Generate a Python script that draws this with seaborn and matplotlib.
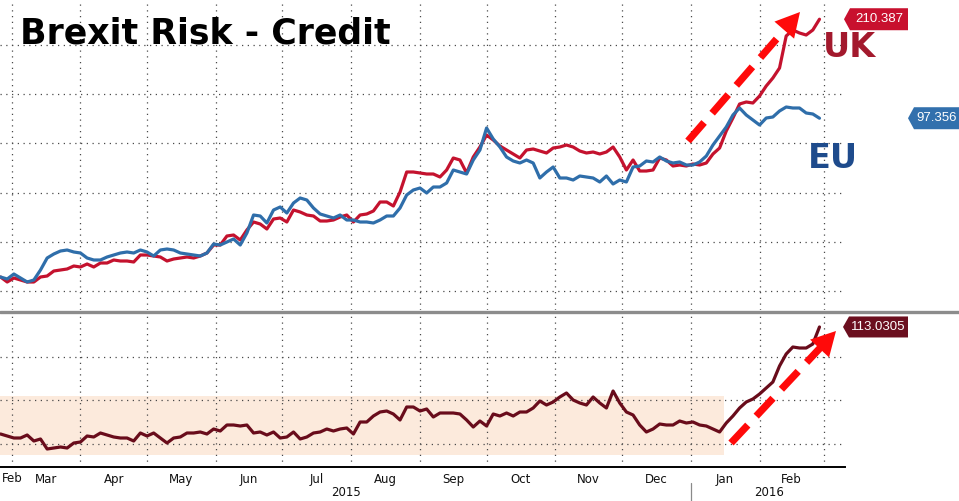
import numpy as np
import pandas as pd
import matplotlib
matplotlib.use("Agg")
import matplotlib.pyplot as plt
import matplotlib.dates as mdates
import matplotlib.transforms as mtransforms
from matplotlib.lines import Line2D
from matplotlib.patches import Polygon, Rectangle
import seaborn as sns

# ---------------- data ----------------
dates = pd.date_range("2015-02-24", periods=124, freq="3D")

uk = [81.5, 79, 81, 80, 79, 79, 81.5, 82, 84.5, 85,
      85.5, 87, 86.5, 88, 86.5, 88.5, 88.5, 90, 89.5, 89.5,
      89, 92.5, 92.5, 92, 91.5, 89.5, 90.5, 91, 91.5, 91,
      92, 93.5, 97.5, 97.5, 102, 102.5, 100, 105, 109, 108,
      105.5, 110.5, 111, 109, 115, 114, 112.5, 112, 109.5, 109.5,
      110, 111.5, 112.5, 109, 112.5, 113, 114.5, 119, 119, 117,
      124, 134, 134, 133.5, 133, 133, 131.5, 135, 141, 140,
      133.5, 141.5, 146.5, 152.5, 150, 147, 145, 143, 141, 145,
      145.5, 144.5, 143.5, 146, 146.5, 147.5, 146.5, 144.5, 143.5, 144,
      143, 144, 146.5, 141.5, 135, 140, 134.5, 134.5, 135, 141,
      140, 137, 137.5, 137, 138, 137.5, 138.5, 143, 146, 154.5,
      161, 168, 169, 168.5, 172, 177, 181, 186, 202, 205,
      203.5, 202.5, 205, 210.387]

eu = [65.6, 65.2, 66.2, 65.4, 64.6, 65.0, 67.0, 69.4, 70.2, 70.8,
      71.0, 70.6, 70.4, 69.4, 69.0, 69.0, 69.6, 70.0, 70.4, 70.6,
      70.4, 71.0, 70.6, 69.8, 71.0, 71.2, 71.0, 70.4, 70.2, 70.0,
      69.8, 70.4, 72.2, 72.0, 72.6, 73.2, 72.0, 74.4, 78.0, 77.8,
      76.4, 79.0, 79.6, 78.4, 80.4, 81.4, 81.0, 79.4, 78.2, 77.8,
      77.4, 78.0, 77.0, 77.0, 76.6, 76.6, 76.4, 77.0, 77.8, 77.8,
      79.4, 82.0, 83.0, 83.4, 82.4, 83.6, 83.6, 84.4, 87.0, 86.6,
      86.2, 89.0, 91.0, 95.4, 93.2, 91.6, 89.6, 88.8, 88.4, 89.0,
      88.4, 85.4, 86.6, 87.6, 85.4, 85.4, 85.0, 85.8, 85.6, 85.4,
      84.6, 85.8, 84.2, 85.0, 84.6, 87.6, 87.8, 88.8, 88.6, 89.6,
      88.8, 88.4, 88.6, 88.0, 88.0, 88.6, 89.8, 92.0, 93.8, 95.6,
      98.0, 99.4, 98.0, 97.0, 96.0, 97.4, 97.6, 98.8, 99.6, 99.4,
      99.4, 98.4, 98.2, 97.356]

spread = [6, 4, 2, 2, 5, -1, 1, -9, -8, -7,
          -8, -3, -2, 4, 3, 7, 5, 3, 2, 2,
          -1, 7, 4, 7, 2, -3, 2, 3, 7, 7,
          8, 6, 11, 9, 15, 15, 14, 15, 7, 8,
          5, 8, 2, 3, 8, 1, 3, 7, 8, 11,
          9, 11, 12, 6, 18, 18, 24, 28, 29, 26,
          20, 33, 33, 29, 31, 23, 27, 27, 27, 26,
          20, 13, 19, 14, 26, 24, 27, 24, 28, 28,
          32, 39, 35, 38, 43, 47, 40, 37, 35, 43,
          37, 32, 49, 37, 28, 25, 15, 8, 11, 16,
          15, 15, 19, 17, 18, 15, 14, 11, 8, 17,
          24, 32, 38, 41, 46, 52, 58, 74, 86, 93,
          92, 92, 96, 113.0305]

month_labels = ["Mar", "Apr", "May", "Jun", "Jul", "Aug", "Sep",
                "Oct", "Nov", "Dec", "Jan", "Feb"]
year_labels = ["2015", "2016"]
title = "Brexit Risk - Credit"
series_names = ["UK", "EU"]
range_band = (-15, 44)            # shaded 2015 range of the spread
range_band_end = "2016-01-16"

# ---------------- style ----------------
sns.set_style("white")
plt.rcParams["font.family"] = ["DejaVu Sans"]

UK_C = "#C4122E"
EU_C = "#2F6EAA"
SP_C = "#690C1B"
GRID_C = "#4a4a4a"
DOT = (0, (1, 3.6))

W, H = 959, 501
fig = plt.figure(figsize=(W / 100, H / 100), dpi=100)
fig.patch.set_facecolor("white")


def fx(px):
    return px / W


def fy(py):
    return 1 - py / H


ax = fig.add_axes([0, fy(310), fx(845), 310 / H])
axb = fig.add_axes([0, fy(467), fx(845), 154 / H], sharex=ax)
ax2 = ax.twinx()

df = pd.DataFrame({"date": dates, "UK": uk, "EU": eu, "spread": spread})

sns.lineplot(data=df, x="date", y="UK", ax=ax, color=UK_C, lw=2.3)
sns.lineplot(data=df, x="date", y="EU", ax=ax2, color=EU_C, lw=2.3)
sns.lineplot(data=df, x="date", y="spread", ax=axb, color=SP_C, lw=2.3)

xmin, xmax = pd.Timestamp("2015-02-23 18:00"), pd.Timestamp("2016-03-10 12:00")
ax.set_xlim(xmin, xmax)
ax.set_ylim(65, 220)
ax2.set_ylim(59, 121)
axb.set_ylim(-27, 127)

month_starts = pd.date_range("2015-03-01", "2016-03-01", freq="MS")
mids = month_starts[:-1] + (month_starts[1:] - month_starts[:-1]) / 2

for a in (ax, ax2, axb):
    a.set_xlabel("")
    a.set_ylabel("")
    for s in a.spines.values():
        s.set_visible(False)

# top panel grid
ax.set_axisbelow(True)
ax.set_yticks(np.linspace(74.4, 197.5, 6))
ax.tick_params(axis="y", length=0, labelleft=False, labelright=False)
ax2.set_yticks([])
ax2.grid(False)
ax.grid(True, which="major", color=GRID_C, linestyle=DOT, linewidth=0.9)

# bottom panel
axb.set_xticks(month_starts)
axb.set_xticks(mids, minor=True)
axb.set_xticklabels([""] * len(month_starts))
axb.set_xticklabels(month_labels, minor=True)
axb.set_yticks([83.3, 40, -4.3])
axb.tick_params(axis="y", length=0, labelleft=False)
axb.tick_params(axis="x", which="major", length=5, width=1, color="black",
                direction="out")
axb.tick_params(axis="x", which="minor", length=0, labelsize=8.5, pad=4,
                labelcolor="#111111")
axb.spines["bottom"].set_visible(True)
axb.spines["bottom"].set_color("black")
axb.spines["bottom"].set_linewidth(1.4)
axb.set_axisbelow(True)
axb.grid(True, which="major", color=GRID_C, linestyle=DOT, linewidth=0.9)
axb.grid(False, which="minor")
ax.tick_params(axis="x", which="both", length=0, labelbottom=False)

axb.add_patch(Rectangle((mdates.date2num(xmin), range_band[0]),
                        mdates.date2num(pd.Timestamp(range_band_end)) - mdates.date2num(xmin),
                        range_band[1] - range_band[0],
                        facecolor="#FCEADC", edgecolor="none", zorder=0))

# left partial-month label and year labels
fig.text(fx(12), fy(478), "Feb", ha="center", va="center", fontsize=8.5, color="#111111")
fig.text(fx(346), fy(493), year_labels[0], ha="center", va="center", fontsize=8.5, color="#111111")
fig.text(fx(769), fy(493), year_labels[1], ha="center", va="center", fontsize=8.5, color="#111111")
blend = mtransforms.blended_transform_factory(axb.transData, fig.transFigure)
jan = mdates.date2num(pd.Timestamp("2016-01-01"))
fig.add_artist(Line2D([jan, jan], [fy(483), fy(501)], transform=blend,
                      color="#8a8a8a", lw=0.9))

# panel separator
fig.add_artist(Line2D([0, 1], [fy(312), fy(312)], transform=fig.transFigure,
                      color="#8c8c8c", lw=2.4))

# title and series labels
fig.text(fx(20), fy(43), title, fontsize=25, fontweight="bold", color="black",
         va="baseline", ha="left")
fig.text(fx(823), fy(57), series_names[0], fontsize=24, fontweight="bold",
         color="#A3192D", va="baseline", ha="left")
fig.text(fx(808), fy(168), series_names[1], fontsize=24, fontweight="bold",
         color="#1E4B8C", va="baseline", ha="left")


# value tags anchored on the last data points
def last_px(axis, x, y):
    X, Y = axis.transData.transform((mdates.date2num(x), y))
    return H - Y


def tag(x0, x1, yc, h, color, text):
    tip = 6
    pts = [(x0, yc), (x0 + tip, yc - h / 2), (x1, yc - h / 2),
           (x1, yc + h / 2), (x0 + tip, yc + h / 2)]
    fig.add_artist(Polygon([(fx(x), fy(y)) for x, y in pts], closed=True,
                           transform=fig.transFigure, facecolor=color,
                           edgecolor="none"))
    fig.text(fx((x0 + tip + x1) / 2), fy(yc), text, color="white",
             ha="center", va="center", fontsize=9.5, family="Liberation Sans")


tag(844, 908, last_px(ax, dates[-1], uk[-1]), 22, "#C8102E", f"{uk[-1]:.3f}")
tag(908, 959, last_px(ax2, dates[-1], eu[-1]), 22, "#3270AD", f"{eu[-1]:.3f}")
tag(843, 908, last_px(axb, dates[-1], spread[-1]), 21, "#6B0F1F", f"{spread[-1]:.4f}")


# red dashed trend arrows
def dashed_arrow(x0, y0, x1, y1, head_len=24, head_w=26):
    d = np.array([x1 - x0, y1 - y0], float)
    u = d / np.hypot(*d)
    p = np.array([-u[1], u[0]])
    base = np.array([x1, y1]) - head_len * u
    fig.add_artist(Line2D([fx(x0), fx(base[0] + 2 * u[0])],
                          [fy(y0), fy(base[1] + 2 * u[1])],
                          transform=fig.transFigure, color="#FF0A0A", lw=5.2,
                          linestyle=(0, (3.4, 1.7)), dash_capstyle="butt"))
    pts = [(x1, y1), tuple(base + p * head_w / 2), tuple(base - p * head_w / 2)]
    fig.add_artist(Polygon([(fx(a), fy(b)) for a, b in pts], closed=True,
                           transform=fig.transFigure, facecolor="#FF0A0A",
                           edgecolor="none"))


dashed_arrow(688, 141, 800, 12)
dashed_arrow(731, 443, 836, 331)

fig.savefig("out.png", dpi=100, facecolor="white")
